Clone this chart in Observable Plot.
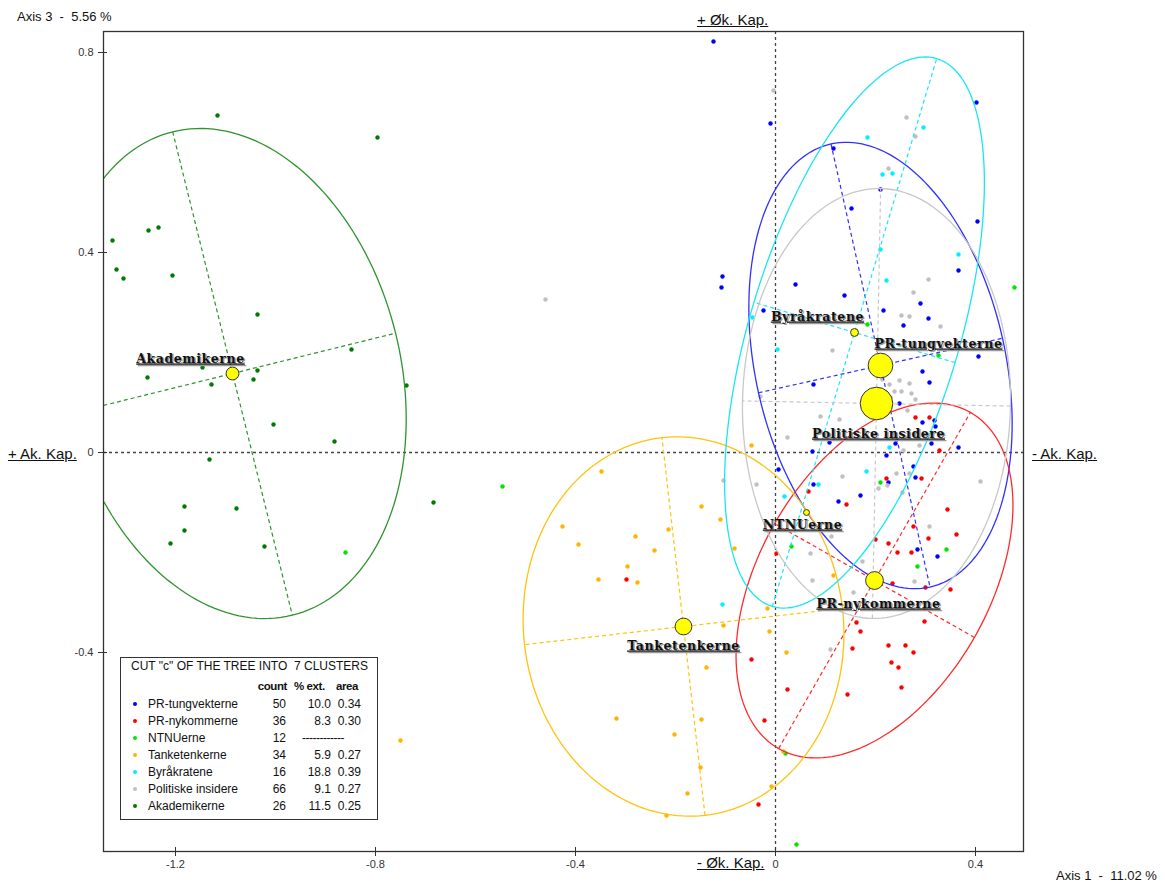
<!DOCTYPE html>
<html><head><meta charset="utf-8">
<script src="https://cdn.jsdelivr.net/npm/d3@7"></script>
<script src="https://cdn.jsdelivr.net/npm/@observablehq/plot@0.6"></script>
<style>
body{margin:0;background:#fff;font-family:Arial,"Liberation Sans",sans-serif;}
#wrap{position:relative;width:1165px;height:889px;overflow:hidden;}
.ann{position:absolute;white-space:pre;color:#111;line-height:1;}
.big{font-size:15px;text-decoration:underline;}
.small{font-size:13px;}
#legend{position:absolute;left:120px;top:657px;width:256px;height:161px;border:1px solid #333;background:#fff;font-size:12px;color:#111;}
#legend div{position:absolute;white-space:pre;line-height:1;}
</style></head><body><div id="wrap"></div><script>
// ---------- data ----------
const groups = ["PR-tungvekterne","PR-nykommerne","NTNUerne","Tanketenkerne","Byråkratene","Politiske insidere","Akademikerne"];
const dotColors = ["#0000ff","#ff0000","#00e600","#ffb400","#00f0ff","#c0c0c0","#007a00"];
const ellColors = ["#3030ff","#ff2a2a",null,"#ffc20e","#1ae6f0","#c8c8c8","#2f932f"];
const counts = [50,36,12,34,16,66,26];
const pctExt = ["10.0","8.3",null,"5.9","18.8","9.1","11.5"];
const areas = ["0.34","0.30",null,"0.27","0.39","0.27","0.25"];
const centerX = [0.210,0.198,0.062,-0.184,0.158,0.202,-1.086];
const centerY = [0.174,-0.256,-0.120,-0.348,0.240,0.098,0.158];
const ellA = [0.454,0.387,null,0.380,0.572,0.430,0.498];
const ellB = [0.250,0.230,null,0.320,0.210,0.268,0.336];
const ellAngle = [-77.4,60.3,null,96.5,73.3,88.9,-76.1];
const xTicks = [-1.2,-0.8,-0.4,0,0.4];
const yTicks = [-0.4,0,0.4,0.8];

const ptsTungvekterne = [[-0.124,0.822],[-0.010,0.658],[0.402,0.700],[0.116,0.608],[0.210,0.526],[0.152,0.488],[-0.106,0.352],[-0.108,0.330],[0.040,0.336],[0.138,0.314],[0.290,0.298],[0.306,0.268],[0.366,0.364],[0.404,0.462],[0.216,0.284],[-0.024,0.284],[0.256,0.254],[0.406,0.192],[0.308,0.140],[0.294,0.162],[0.076,0.136],[0.248,0.098],[0.294,0.060],[0.318,0.064],[0.320,0.052],[0.366,0.010],[0.312,0.018],[0.074,0.002],[0.108,0.020],[0.222,-0.006],[0.276,-0.028],[0.280,-0.050],[0.226,-0.060],[0.076,-0.064],[0.170,-0.086],[0.006,-0.034],[0.240,0.018],[0.126,-0.098],[0.284,-0.194],[0.324,-0.208]];
const ptsNykommerne = [[0.280,0.070],[0.308,0.070],[0.328,0.004],[0.222,-0.052],[0.292,-0.052],[0.066,-0.078],[0.142,-0.104],[0.344,-0.114],[0.276,-0.148],[0.362,-0.164],[0.306,-0.172],[0.200,-0.174],[0.226,-0.182],[0.244,-0.200],[0.272,-0.200],[0.002,-0.202],[0.234,-0.262],[0.300,-0.270],[0.350,-0.274],[0.298,-0.338],[0.162,-0.340],[0.170,-0.358],[0.154,-0.392],[0.226,-0.386],[0.260,-0.386],[0.276,-0.400],[0.232,-0.420],[0.246,-0.430],[0.252,-0.470],[0.144,-0.484],[0.024,-0.474],[-0.022,-0.536],[-0.034,-0.704],[-0.048,-0.414],[-0.298,-0.254]];
const ptsNTNU = [[0.478,0.330],[0.326,0.194],[0.184,0.256],[0.210,-0.060],[0.032,-0.188],[0.342,-0.194],[0.284,-0.228],[0.020,-0.602],[0.042,-0.784],[-0.546,-0.068],[-0.860,-0.200]];
const ptsTanketenkerne = [[-0.348,-0.038],[-0.426,-0.148],[-0.394,-0.184],[-0.280,-0.168],[-0.242,-0.196],[-0.296,-0.228],[-0.354,-0.254],[-0.276,-0.260],[-0.214,-0.154],[-0.148,-0.108],[-0.110,-0.134],[-0.082,-0.192],[-0.048,0.014],[-0.104,-0.346],[-0.012,-0.358],[-0.016,-0.312],[-0.138,-0.430],[0.022,-0.400],[-0.318,-0.532],[-0.202,-0.564],[-0.148,-0.534],[-0.150,-0.630],[-0.176,-0.682],[-0.218,-0.726],[-0.008,-0.668],[0.016,-0.598],[0.116,-0.246],[-0.750,-0.576]];
const ptsByrakratene = [[0.184,0.630],[0.296,0.650],[0.214,0.556],[0.234,0.558],[0.210,0.406],[0.222,0.344],[0.366,0.396],[-0.046,0.270],[0.004,0.206],[0.182,-0.038],[0.086,-0.064],[0.018,-0.088],[0.228,0.010],[-0.106,-0.304]];
const ptsPolitiske = [[-0.004,0.724],[0.262,0.670],[0.280,0.632],[0.226,0.568],[0.306,0.346],[0.276,0.320],[0.252,0.274],[0.268,0.272],[0.330,0.252],[0.114,0.204],[-0.030,0.112],[0.090,0.072],[0.128,0.066],[0.024,0.030],[0.228,0.136],[0.248,0.144],[0.238,0.122],[0.252,0.122],[0.272,0.118],[0.268,0.138],[0.214,0.146],[0.230,0.110],[0.280,0.106],[0.264,0.084],[0.288,0.014],[0.256,0.004],[0.134,-0.048],[0.242,-0.042],[0.268,-0.042],[0.254,-0.080],[0.206,-0.072],[0.410,-0.058],[-0.104,-0.056],[-0.038,-0.064],[0.224,-0.066],[0.308,-0.148],[0.112,-0.168],[0.070,-0.202],[0.174,-0.218],[0.074,-0.256],[0.156,-0.280],[0.278,-0.258],[0.110,-0.394],[-0.460,0.306]];
const ptsAkademikerne = [[-1.116,0.674],[-0.796,0.630],[-1.326,0.424],[-1.318,0.366],[-1.304,0.348],[-1.254,0.444],[-1.234,0.450],[-1.206,0.354],[-1.036,0.276],[-0.848,0.206],[-1.256,0.150],[-1.128,0.136],[-1.044,0.146],[-1.036,0.164],[-0.738,0.134],[-1.004,0.056],[-0.882,0.022],[-1.132,-0.014],[-0.684,-0.100],[-1.182,-0.108],[-1.182,-0.156],[-1.078,-0.112],[-1.210,-0.182],[-1.022,-0.188],[-1.146,0.170]];
const pointSets = [ptsTungvekterne,ptsNykommerne,ptsNTNU,ptsTanketenkerne,ptsByrakratene,ptsPolitiske,ptsAkademikerne];

// ---------- styles (label offsets in px) ----------
const labelDx = [58,4,-4,0,-37,2,-42];
const labelDy = [-22,23,12,19,-16,30,-15];

// ---------- derived tables ----------
const points = [];
pointSets.forEach((arr,i)=>arr.forEach(([x,y])=>points.push({g:groups[i],x,y})));
const ellipseMarks = [];
groups.forEach((g,i)=>{
  if (ellA[i]==null) return;
  const th = ellAngle[i]*Math.PI/180, c=Math.cos(th), s=Math.sin(th);
  const ring = d3.range(0,361,2).map(k=>{const t=k*Math.PI/180;return {x:centerX[i]+ellA[i]*Math.cos(t)*c-ellB[i]*Math.sin(t)*s, y:centerY[i]+ellA[i]*Math.cos(t)*s+ellB[i]*Math.sin(t)*c};});
  const axes = [
    {x1:centerX[i]-ellA[i]*c,y1:centerY[i]-ellA[i]*s,x2:centerX[i]+ellA[i]*c,y2:centerY[i]+ellA[i]*s},
    {x1:centerX[i]+ellB[i]*s,y1:centerY[i]-ellB[i]*c,x2:centerX[i]-ellB[i]*s,y2:centerY[i]+ellB[i]*c}
  ];
  ellipseMarks.push(Plot.line(ring,{x:"x",y:"y",stroke:ellColors[i],strokeWidth:1.3,clip:true}));
  ellipseMarks.push(Plot.link(axes,{x1:"x1",y1:"y1",x2:"x2",y2:"y2",stroke:ellColors[i],strokeWidth:1.2,strokeDasharray:"4,3",clip:true}));
});
const idx = d3.range(groups.length);
const labelMarks = idx.flatMap(i=>[
  Plot.text([i],{x:j=>centerX[j],y:j=>centerY[j],text:j=>groups[j],dx:labelDx[i]+1.5,dy:labelDy[i]+1.5,fill:"#9a9a9a",fontFamily:"DejaVu Serif",fontWeight:"bold",fontSize:12.5}),
  Plot.text([i],{x:j=>centerX[j],y:j=>centerY[j],text:j=>groups[j],dx:labelDx[i],dy:labelDy[i],fill:"#111",fontFamily:"DejaVu Serif",fontWeight:"bold",fontSize:12.5})
]);

const fmt = d=>String(d);
const plot = Plot.plot({
  width:1165,height:889,
  marginLeft:103,marginRight:142,marginTop:31,marginBottom:38,
  x:{domain:[-1.344,0.496]},
  y:{domain:[-0.798,0.842]},
  r:{type:"linear",domain:[0,66],range:[0,16.3]},
  color:{domain:groups,range:dotColors},
  style:{fontFamily:"Arial, 'Liberation Sans', sans-serif",fontSize:"11px",color:"#333",background:"#fff"},
  marks:[
    Plot.ruleX([0],{stroke:"#444",strokeWidth:1.3,strokeDasharray:"3,3"}),
    Plot.ruleY([0],{stroke:"#444",strokeWidth:1.3,strokeDasharray:"3,3"}),
    Plot.dot(points,{x:"x",y:"y",fill:"g",r:2.2,clip:true}),
    ...ellipseMarks,
    Plot.dot(idx,{x:i=>centerX[i],y:i=>centerY[i],r:i=>counts[i],fill:"#ffff00",stroke:"#333",strokeWidth:1}),
    ...labelMarks,
    Plot.axisX({ticks:xTicks,tickFormat:fmt,tickSize:5,tickPadding:4,label:null,fontSize:11}),
    Plot.axisX({ticks:xTicks,tickFormat:()=>"",tickSize:-4,label:null}),
    Plot.axisY({ticks:yTicks,tickFormat:fmt,tickSize:5,tickPadding:5,label:null,fontSize:11}),
    Plot.axisY({ticks:yTicks,tickFormat:()=>"",tickSize:-4,label:null}),
    Plot.frame({stroke:"#333",strokeWidth:1.3})
  ]
});
const wrap = document.getElementById("wrap");
wrap.appendChild(plot);
const labelSet = new Set(groups);
d3.select(plot).selectAll("text").filter(function(){return labelSet.has(this.textContent);})
  .style("text-decoration","underline").style("letter-spacing","0.6px");

// ---------- annotations ----------
function ann(txt,cls,left,top){const d=document.createElement("div");d.className="ann "+cls;d.textContent=txt;d.style.left=left+"px";d.style.top=top+"px";wrap.appendChild(d);return d;}
ann("Axis 3  -  5.56 %","small",17,10);
ann("Axis 1  -  11.02 %","small",1056,869);
ann("+ Øk. Kap.","big",697,12);
ann("- Øk. Kap.","big",697,855);
ann("+ Ak. Kap.","big",8,446);
ann("- Ak. Kap.","big",1032,446);

// ---------- legend ----------
const lg = document.createElement("div"); lg.id="legend"; wrap.appendChild(lg);
function lt(txt,left,top,opts={}){const d=document.createElement("div");d.textContent=txt;d.style.left=left+"px";d.style.top=top+"px";Object.assign(d.style,opts);lg.appendChild(d);return d;}
lt('CUT "c" OF THE TREE INTO  7 CLUSTERS',10,2);
const hdr={fontWeight:"bold",fontSize:"11.5px",letterSpacing:"-0.4px"};
lt("count",134,23,{...hdr,width:"32px",textAlign:"right"});
lt("% ext.",173,23,hdr);
lt("area",215,23,hdr);
groups.forEach((g,i)=>{
  const top = 40+i*17;
  const b=document.createElement("div");
  Object.assign(b.style,{left:"12px",top:(top+4)+"px",width:"4px",height:"4px",borderRadius:"50%",background:dotColors[i]});
  lg.appendChild(b);
  lt(g,27,top);
  lt(String(counts[i]),130,top,{width:"35px",textAlign:"right"});
  if (pctExt[i]==null){ lt("------------",181,top,{letterSpacing:"-0.5px"}); }
  else {
    lt(pctExt[i],176,top,{width:"34px",textAlign:"right"});
    lt(areas[i],206,top,{width:"34px",textAlign:"right"});
  }
});
</script></body></html>
